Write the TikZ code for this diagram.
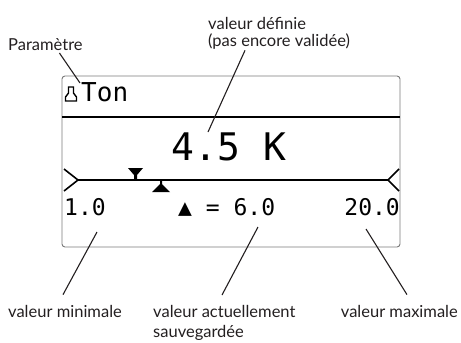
\documentclass[tikz,border=0pt]{standalone}
\usepackage{fontspec}
\setmainfont{Lato}
\newfontfamily\lcdfont{DejaVu Sans Mono}
\definecolor{inkblack}{HTML}{231F20}
\definecolor{framegray}{HTML}{7A7A7A}
\tikzset{
  lbl/.style={font=\fontsize{16.5}{17}\selectfont, text=inkblack, inner sep=0pt},
  lblwide/.style={lbl, font=\fontsize{16.5}{20}\selectfont},
  lcd/.style={font=\lcdfont\fontsize{23}{23}\selectfont, text=black, inner sep=0pt},
  lcdhdr/.style={lcd, font=\lcdfont\fontsize{26}{26}\selectfont},
  lcdbig/.style={font=\lcdfont\fontsize{38}{38}\selectfont, text=black, inner sep=0pt},
  leader/.style={draw=inkblack, line width=1.1pt},
  frame/.style={draw=framegray, line width=0.9pt, rounded corners=3pt},
  sep/.style={draw=black, line width=2.2pt},
  scl/.style={draw=black, line width=1.6pt},
  icon/.style={draw=black, line width=1.4pt, line join=miter},
  marker/.style={fill=black, draw=none},
}

\begin{document}
\begin{tikzpicture}[x=1pt,y=1pt]
  \useasboundingbox (0,0) rectangle (461,-343);
  % display frame
  \draw[frame] (62,-76) rectangle (400,-247);
  \draw[sep] (62,-117) -- (400,-117);
  \draw[icon] (68.5,-87) -- (68.5,-93) -- (65.5,-97) -- (65.5,-101) -- (76.5,-101)
    -- (76.5,-97) -- (73.5,-93) -- (73.5,-87) -- cycle;
  \node[lcdhdr, anchor=base west] (hdr) at (81,-101) {Ton};
  \node[lcdbig, anchor=base] (setval) at (229,-160) {4.5 K};
  % scale
  \coordinate (sclleft) at (78,-180);
  \coordinate (sclright) at (388,-180);
  \draw[scl] (sclleft) -- (sclright);
  \draw[scl] (64,-169) -- (sclleft) -- (64,-191);
  \draw[scl] (399,-169) -- (sclright) -- (399,-191);
  \fill[marker] (128,-168) -- (143,-168) -- (137,-175) -- (137,-180) -- (134,-180)
    -- (134,-175) -- cycle;
  \fill[marker] (152,-192) -- (170,-192) -- (162,-184) -- (162,-180) -- (160,-180)
    -- (160,-184) -- cycle;
  \node[lcd, anchor=base west] (valmin) at (64,-215) {1.0};
  \node[lcd, anchor=base west] (valcur) at (178,-215) {▲ = 6.0};
  \node[lcd, anchor=base east] (valmax) at (400,-215) {20.0};
  % labels
  \node[lbl, anchor=base west] (lblparam) at (8,-50) {Paramètre};
  \node[lbl, anchor=north west, align=left] (lbldef) at (208,-17) {valeur définie\\(pas encore validée)};
  \node[lbl, anchor=base west] (lblmin) at (8,-317) {valeur minimale};
  \node[lblwide, anchor=north west, align=left] (lblcur) at (153,-305) {valeur actuellement\\sauvegardée};
  \node[lbl, anchor=base east] (lblmax) at (458,-317) {valeur maximale};
  % leader lines
  \coordinate (tipparam) at (80,-83);
  \coordinate (tipdef) at (208,-132);
  \coordinate (tipmin) at (97,-232);
  \coordinate (tipcur) at (258,-227);
  \coordinate (tipmax) at (366,-229);
  \draw[leader] ([xshift=14pt,yshift=-3pt]lblparam.base) -- (tipparam);
  \draw[leader] ([xshift=37pt,yshift=-1pt]lbldef.south west) -- (tipdef);
  \draw[leader] ([xshift=55pt,yshift=10pt]lblmin.north west) -- (tipmin);
  \draw[leader] ([xshift=69pt,yshift=10pt]lblcur.north west) -- (tipcur);
  \draw[leader] ([xshift=-51pt,yshift=10pt]lblmax.north east) -- (tipmax);
\end{tikzpicture}
\end{document}
